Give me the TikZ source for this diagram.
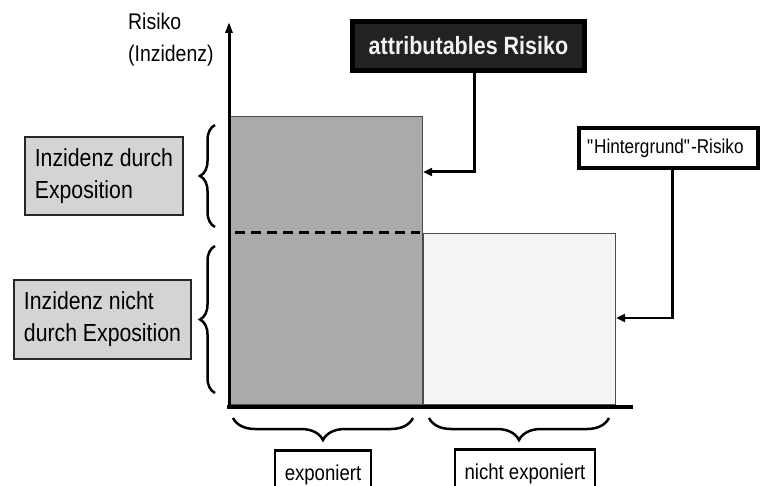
\documentclass[tikz,border=0pt]{standalone}
\usepackage{fontspec}
\setmainfont{Liberation Sans}[FakeStretch=0.86]
\usetikzlibrary{
  arrows.meta,
  positioning,
  decorations.pathreplacing,
  calc
}
\definecolor{BarDark}  {RGB}{170,170,170}
\definecolor{BarLight} {RGB}{244,244,244}
\definecolor{LabelGray}{RGB}{212,212,212}
\definecolor{AttrFill} {RGB}{34,34,34}

\begin{document}
\begin{tikzpicture}[
  x=1pt, y=-1pt,
  bar/.style={rectangle, draw=black!70, line width=1pt, anchor=south west,
              inner sep=0pt},
  sidebox/.style={rectangle, draw=black!85, line width=2pt, fill=LabelGray,
                  align=left, inner xsep=10pt, minimum height=78pt,
                  font=\fontsize{24.7}{32}\selectfont},
  groupbox/.style={rectangle, draw=black, line width=2.5pt, fill=white,
                   inner sep=0pt, minimum height=50pt,
                   font=\fontsize{21.6}{24}\selectfont},
  arr/.style={-{Triangle[length=9pt,width=8pt]}, line width=3pt},
  brc/.style={decorate, decoration={brace, amplitude=#1}, line width=2.5pt}
]
\useasboundingbox (0,0) rectangle (763,486);

\coordinate (origin) at (229,407);
\coordinate (ytop)   at (229,22);
\coordinate (xend)   at (633,407);

\node[bar, fill=BarDark, minimum width=193pt, minimum height=288pt]
      at (229,405) (expbar) {};
\node[bar, fill=BarLight, minimum width=192pt, minimum height=171pt]
      at (423,405) (nexpbar) {};

\draw[line width=3pt, -{Triangle[length=11pt,width=7pt]}] (origin) -- (ytop);
\draw[line width=4pt] ([xshift=-2pt]origin) -- (xend);
\draw[line width=3pt, dash pattern=on 10pt off 6pt] (235,233) -- (420,233);

\node[anchor=north west, align=left, inner sep=0pt,
      font=\fontsize{22.6}{32}\selectfont] at (128,13) (ylabel)
      {Risiko\\(Inzidenz)};

\draw[brc=15pt] (215,227) -- (215,125);
\draw[brc=15pt] (215,393) -- (215,246);
\draw[brc=22pt] (413,418) -- (233,418);
\draw[brc=22pt] (609,418) -- (429,418);

\coordinate (uptip)   at (200,176);
\coordinate (lowtip)  at (200,319.5);
\coordinate (exptip)  at (323,440);
\coordinate (nexptip) at (519,440);

\node[sidebox, left=16pt of uptip]  (byexp)  {Inzidenz durch\\Exposition};
\node[sidebox, left=8pt of lowtip]  (notexp) {Inzidenz nicht\\durch Exposition};

\node[groupbox, minimum width=96pt, below=9pt of exptip] (expo) {exponiert};
\node[groupbox, minimum width=140pt, below=8pt of nexptip, xshift=6pt]
      (nexpo) {nicht exponiert};

\node[rectangle, fill=AttrFill, draw=black, line width=5pt, text=black!5,
      minimum width=232pt, minimum height=49pt,
      font=\bfseries\fontsize{25}{28}\selectfont] at (468.5,46) (attr)
      {attributables Risiko};

\node[rectangle, fill=white, draw=black, line width=4pt, text width=163pt,
      align=left, inner xsep=8pt, minimum height=40pt,
      font=\fontsize{20}{22}\selectfont] at (668.5,148) (hint)
      {\textquotedbl Hintergrund\textquotedbl-Risiko};

\draw[arr] ([xshift=6pt]attr.south) |- ([yshift=-56pt]expbar.north east);
\draw[arr, line width=2.5pt] ([xshift=4pt]hint.south)
      |- ([yshift=-85pt]nexpbar.north east);

\end{tikzpicture}
\end{document}
